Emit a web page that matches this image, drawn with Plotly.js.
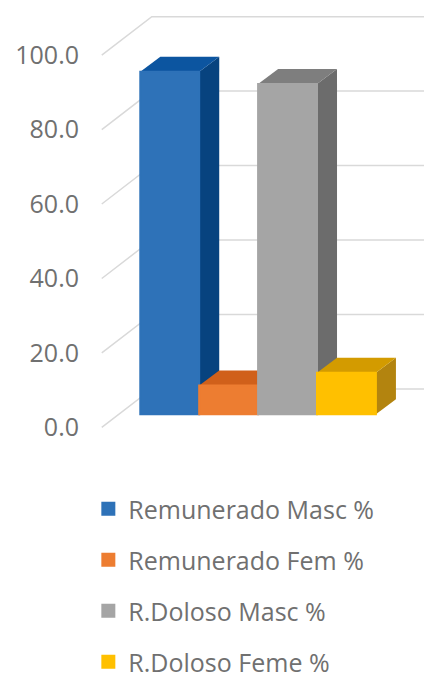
<!DOCTYPE html>
<html><head><meta charset="utf-8">
<script src="https://cdn.plot.ly/plotly-3.0.1.min.js"></script>
<style>html,body{margin:0;padding:0;background:#fff}#chart{width:424px;height:680px}</style>
</head><body><div id="chart"></div>
<script>
// ---- data ----
const seriesNames = ['Remunerado Masc %', 'Remunerado Fem %', 'R.Doloso Masc %', 'R.Doloso Feme %'];
const seriesValues = [92.0, 7.7, 88.7, 11.1];
const tickValues = [0, 20, 40, 60, 80, 100];
const tickLabels = ['0.0', '20.0', '40.0', '60.0', '80.0', '100.0'];

// ---- style ----
const frontColors = ['#2E72B8', '#ED7D31', '#A5A5A5', '#FFC000'];
const topColors   = ['#0C55A0', '#D0601A', '#7E7E7E', '#D39B00'];
const sideColors  = ['#07437F', '#B4520F', '#6C6C6C', '#B3840F'];

// oblique projection parameters (in axis units)
const barBase = 3.55;           // bars stand in the middle of the floor depth
const barDX = 0.34, barDY = 4.03;
const wallDX = 0.849, wallDY = 10.34;
const floorLeft = -1.154;
const gridRight = 6;

const shapes = [];
// 3D gridlines: front slanted segment + horizontal line on back wall
tickValues.forEach(v => {
  shapes.push({
    type: 'path', layer: 'below', xref: 'x', yref: 'y',
    path: `M${floorLeft},${v} L${floorLeft + wallDX},${v + wallDY} L${gridRight},${v + wallDY}`,
    line: {color: '#D9D9D9', width: 1.5}
  });
});
// side and top faces of the bars
seriesValues.forEach((v, i) => {
  const x0 = i - 0.5, x1 = i + 0.5, b = barBase, t = barBase + v;
  shapes.push({
    type: 'path', layer: 'below', xref: 'x', yref: 'y',
    path: `M${x1},${b} L${x1 + barDX},${b + barDY} L${x1 + barDX},${t + barDY} L${x1},${t} Z`,
    fillcolor: sideColors[i], line: {width: 0}
  });
  shapes.push({
    type: 'path', layer: 'below', xref: 'x', yref: 'y',
    path: `M${x0},${t} L${x1},${t} L${x1 + barDX},${t + barDY} L${x0 + barDX},${t + barDY} Z`,
    fillcolor: topColors[i], line: {width: 0}
  });
});

const traces = seriesNames.map((name, i) => ({
  type: 'bar', name: name, legendgroup: 'g' + i,
  x: [i], y: [seriesValues[i]], base: barBase, width: 1,
  marker: {color: frontColors[i], line: {color: frontColors[i], width: 2}},
  hoverinfo: 'skip'
}));

const textFont = {family: 'Open Sans, sans-serif', size: 25, color: '#707070'};

const layout = {
  width: 424, height: 680,
  margin: {l: 100, r: 0, t: 3, b: 234, pad: 0, autoexpand: false},
  paper_bgcolor: '#ffffff', plot_bgcolor: '#ffffff',
  bargap: 0, barmode: 'overlay',
  xaxis: {range: [-1.184, 4.3166], visible: false, fixedrange: true},
  yaxis: {
    range: [-5, 114], tickmode: 'array', tickvals: tickValues, ticktext: tickLabels,
    showgrid: false, zeroline: false, showline: false, ticks: '',
    ticklabelstandoff: 20, tickfont: textFont, fixedrange: true
  },
  showlegend: true,
  legend: {
    x: -0.036, xanchor: 'left', y: -0.0903, yanchor: 'top',
    font: textFont, tracegroupgap: 15.5, bgcolor: 'rgba(0,0,0,0)', borderwidth: 0
  },
  shapes: shapes
};

Plotly.newPlot('chart', traces, layout, {displayModeBar: false, staticPlot: true});
</script>
</body></html>
